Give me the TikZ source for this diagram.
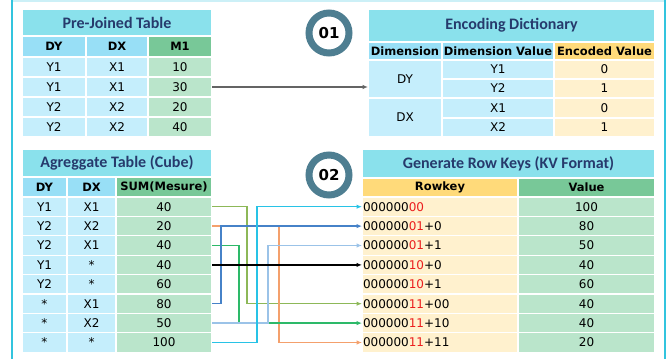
\documentclass[tikz,border=0pt]{standalone}
\usepackage{fontspec}
\setmainfont{DejaVu Sans}
\newfontfamily\ttlfont{Carlito}
\usetikzlibrary{arrows.meta,shadows}

\definecolor{ttlfill}{RGB}{138,225,236}
\definecolor{ttltext}{RGB}{38,58,108}
\definecolor{hdblue}{RGB}{152,223,246}
\definecolor{hdgreen}{RGB}{120,200,152}
\definecolor{hdyellow}{RGB}{255,218,122}
\definecolor{cblue}{RGB}{197,238,252}
\definecolor{cgreen}{RGB}{186,229,203}
\definecolor{cyellow}{RGB}{255,241,206}
\definecolor{framec}{RGB}{50,196,222}
\definecolor{badgec}{RGB}{78,126,145}
\definecolor{keyred}{RGB}{235,30,30}
\definecolor{lnolive}{RGB}{141,184,88}
\definecolor{lnorange}{RGB}{244,160,108}
\definecolor{lngreen}{RGB}{45,185,105}
\definecolor{lnblue}{RGB}{70,130,200}
\definecolor{lnlight}{RGB}{155,195,232}
\definecolor{lncyan}{RGB}{40,195,230}
\definecolor{lngray}{RGB}{100,100,100}

\tikzset{
  cellsty/.style={draw=white, line width=1.2pt, inner sep=0pt, outer sep=0pt, text=black},
  titlesty/.style={fill=ttlfill, text=ttltext, font=\ttlfont\bfseries\fontsize{16}{18}\selectfont},
  hdsty/.style={font=\bfseries\fontsize{11.5}{13}\selectfont},
  conn/.style={line width=1.3pt, -{Latex[length=5.5pt,width=4.5pt]}},
  badge/.style={circle, fill=white, draw=badgec, line width=7pt, minimum size=40pt,
    inner sep=0pt, font=\bfseries\fontsize{15}{17}\selectfont,
    drop shadow={shadow xshift=1pt, shadow yshift=-2pt, opacity=0.25, fill=black}},
}

% one table cell: [options]{name}{x0}{y0}{x1}{y1}{text}
\newcommand\cellbox[7][]{%
  \pgfmathsetmacro\cbw{#5-#3}\pgfmathsetmacro\cbh{#6-#4}%
  \node[cellsty, minimum width=\cbw pt, minimum height=\cbh pt, #1] (#2)
    at ({(#3+#5)/2},{(#4+#6)/2}) {#7};}

\begin{document}
\begin{tikzpicture}[x=1pt, y=-1pt, font=\fontsize{12}{14}\selectfont]
\useasboundingbox (0,0) rectangle (670,360);

% outer frame
\draw[framec!25, line width=1.5pt] (12,1) -- (665,1);
\draw[framec, line width=2pt] (12,0) -- (12,359);
\draw[framec, line width=2pt] (665,0) -- (665,359);

% ---- Pre-Joined Table ----
\cellbox[titlesty]{pj-title}{22}{9}{212}{36}{Pre-Joined Table}
\cellbox[fill=hdblue, hdsty]{pj-h1}{22}{36}{86}{57}{DY}
\cellbox[fill=hdblue, hdsty]{pj-h2}{86}{36}{148}{57}{DX}
\cellbox[fill=hdgreen, hdsty]{pj-h3}{148}{36}{212}{57}{M1}
\foreach \i/\a/\b/\c in {1/Y1/X1/10, 2/Y1/X1/30, 3/Y2/X2/20, 4/Y2/X2/40}{
  \pgfmathsetmacro\ya{57+20*(\i-1)}\pgfmathsetmacro\yb{\ya+20}
  \cellbox[fill=cblue]{pj-r\i c1}{22}{\ya}{86}{\yb}{\a}
  \cellbox[fill=cblue]{pj-r\i c2}{86}{\ya}{148}{\yb}{\b}
  \cellbox[fill=cgreen]{pj-r\i c3}{148}{\ya}{212}{\yb}{\c}
}

% ---- Encoding Dictionary ----
\cellbox[titlesty]{ed-title}{368}{9}{655}{42}{Encoding Dictionary}
\cellbox[fill=hdblue, hdsty]{ed-h1}{368}{42}{442}{60}{Dimension}
\cellbox[fill=hdblue, hdsty]{ed-h2}{442}{42}{554}{60}{Dimension Value}
\cellbox[fill=hdyellow, hdsty]{ed-h3}{554}{42}{655}{60}{Encoded Value}
\cellbox[fill=cblue]{ed-dy}{368}{60}{442}{98}{DY}
\cellbox[fill=cblue]{ed-dx}{368}{98}{442}{137}{DX}
\foreach \i/\ya/\yb/\a/\c in {1/60/79/Y1/0, 2/79/98/Y2/1, 3/98/118/X1/0, 4/118/137/X2/1}{
  \cellbox[fill=cblue]{ed-r\i c2}{442}{\ya}{554}{\yb}{\a}
  \cellbox[fill=cyellow]{ed-r\i c3}{554}{\ya}{655}{\yb}{\c}
}

% ---- Aggregate Table ----
\cellbox[titlesty]{ag-title}{22}{149}{212}{177}{Agreggate Table (Cube)}
\cellbox[fill=hdblue, hdsty]{ag-h1}{22}{177}{67}{197}{DY}
\cellbox[fill=hdblue, hdsty]{ag-h2}{67}{177}{116}{197}{DX}
\cellbox[fill=hdgreen, hdsty]{ag-h3}{116}{177}{212}{197}{SUM(Mesure)}
\foreach \i/\a/\b/\c in {1/Y1/X1/40, 2/Y2/X2/20, 3/Y2/X1/40, 4/Y1/*/40,
                         5/Y2/*/60, 6/*/X1/80, 7/*/X2/50, 8/*/*/100}{
  \pgfmathsetmacro\ya{197+19.4*(\i-1)}\pgfmathsetmacro\yb{\ya+19.4}
  \cellbox[fill=cblue]{ag-r\i c1}{22}{\ya}{67}{\yb}{\a}
  \cellbox[fill=cblue]{ag-r\i c2}{67}{\ya}{116}{\yb}{\b}
  \cellbox[fill=cgreen]{ag-r\i c3}{116}{\ya}{212}{\yb}{\c}
}

% ---- Row keys ----
\cellbox[titlesty]{rk-title}{362}{149}{655}{178}{Generate Row Keys (KV Format)}
\cellbox[fill=hdyellow, hdsty]{rk-h1}{362}{178}{518}{197}{Rowkey}
\cellbox[fill=hdgreen, hdsty]{rk-h2}{518}{178}{655}{197}{Value}
\foreach \i/\r/\s/\v in {1/00//100, 2/01/+0/80, 3/01/+1/50, 4/10/+0/40,
                         5/10/+1/60, 6/11/+00/40, 7/11/+10/40, 8/11/+11/20}{
  \pgfmathsetmacro\ya{197+19.4*(\i-1)}\pgfmathsetmacro\yb{\ya+19.4}
  \cellbox[fill=cyellow, text width=154pt, align=left]{rk-r\i c1}{362}{\ya}{518}{\yb}
    {000000\textcolor{keyred}{\r}\s}
  \cellbox[fill=cgreen]{rk-r\i c2}{518}{\ya}{655}{\yb}{\v}
}

% ---- step badges ----
\node[badge] (step-one) at (329,33) {01};
\node[badge] (step-two) at (329,175) {02};

% ---- connectors ----
\draw[conn, lngray] (pj-r2c3.east) -- (pj-r2c3.east -| ed-dy.west);

\draw[conn, lnolive]  (ag-r1c3.east) -- ++(35,0) |- (rk-r6c1.west);
\draw[conn, lnorange] (ag-r2c3.east) -- ++(67,0) |- (rk-r8c1.west);
\draw[conn, lngreen]  (ag-r3c3.east) -- ++(27,0) |- (rk-r7c1.west);
\draw[conn, lnblue]   (ag-r6c3.east) -- ++(9,0)  |- (rk-r2c1.west);
\draw[conn, lnlight]  (ag-r7c3.east) -- ++(56,0) |- (rk-r3c1.west);
\draw[conn, lncyan]   (ag-r8c3.east) -- ++(45,0) |- (rk-r1c1.west);
\draw[conn, black]    (ag-r4c3.east) -- (rk-r4c1.west);
\end{tikzpicture}
\end{document}
